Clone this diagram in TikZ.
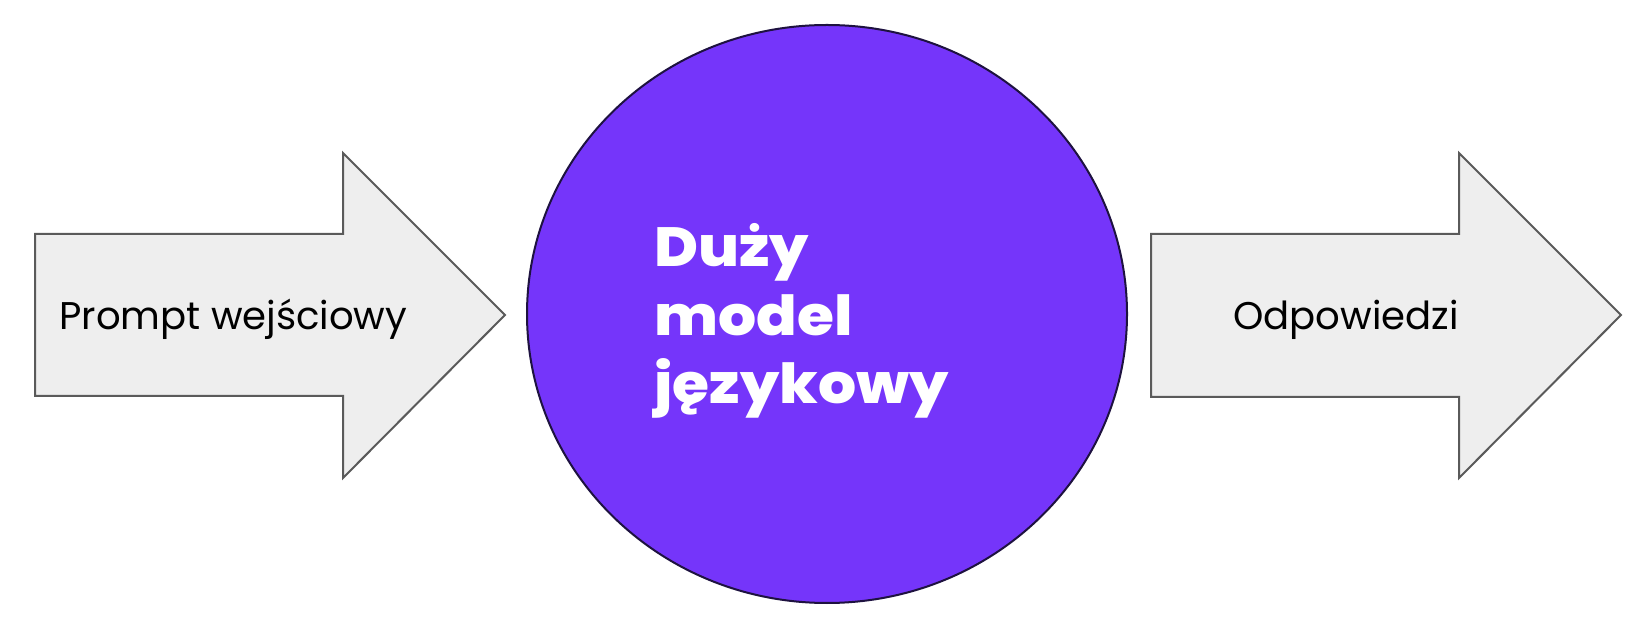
\documentclass[tikz,border=0pt]{standalone}
\usepackage{fontspec}
\usetikzlibrary{shapes.geometric}
\setmainfont{Poppins}
\newfontfamily\boldpop{Poppins}[UprightFont=* ExtraBold,FakeStretch=1.085]
\definecolor{arrowfill}{HTML}{EEEEEE}
\definecolor{arrowline}{HTML}{5A5A5A}
\definecolor{llmpurple}{HTML}{7535FA}
\definecolor{llmedge}{HTML}{1E1240}
\begin{document}
\begin{tikzpicture}[x=0.5pt,y=-0.5pt,
  bigarrow/.style={fill=arrowfill,draw=arrowline,line width=1pt,line join=miter},
  arrowtext/.style={anchor=base west,inner sep=0pt,font=\fontsize{19.3pt}{23pt}\selectfont,text=black},
  llmtext/.style={anchor=base west,inner sep=0pt,align=left,text=white,font=\boldpop\fontsize{27.6pt}{34.3pt}\selectfont}]
\useasboundingbox[fill=white] (0,0) rectangle (1643,640);
% input arrow
\draw[bigarrow] (35,234) -- (343,234) -- (343,153) -- (505,315) -- (343,478) -- (343,396) -- (35,396) -- cycle;
\node[arrowtext] (inp) at (59,330) {Prompt wejściowy};
% model circle
\node[ellipse, minimum width=300pt, minimum height=289pt, inner sep=0pt, fill=llmpurple, draw=llmedge, line width=1pt] (llm) at (827,314) {};
\node[llmtext] (llmlabel) at (654,404) {Duży\\model\\językowy};
% output arrow
\draw[bigarrow] (1151,234) -- (1459,234) -- (1459,153) -- (1621,315) -- (1459,478) -- (1459,397) -- (1151,397) -- cycle;
\node[arrowtext] (out) at (1233,330) {Odpowiedzi};
\end{tikzpicture}
\end{document}
